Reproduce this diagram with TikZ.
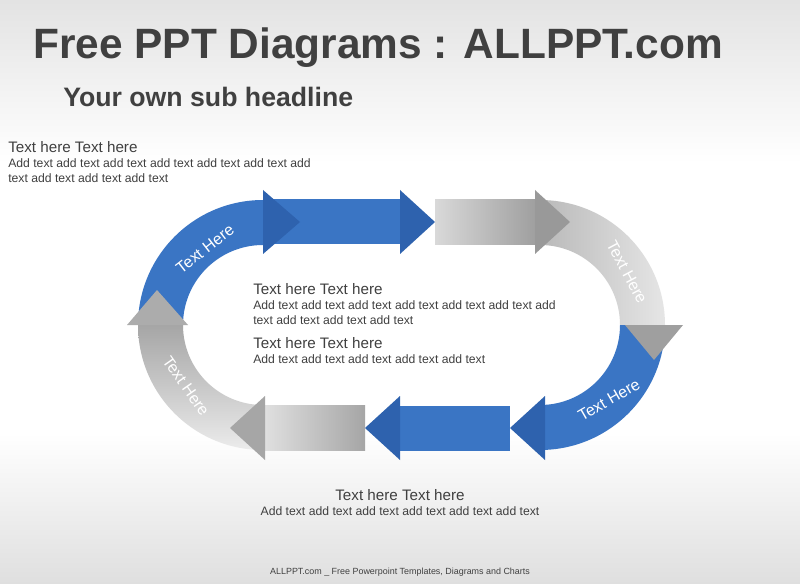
\documentclass[tikz,border=0pt]{standalone}
\usepackage{fontspec}
\setmainfont{Liberation Sans}
\begin{document}
\begin{tikzpicture}[x=0.75pt,y=0.75pt,
  blu/.style={fill=blue1},
  gr/.style={left color=gray!30,right color=gray!75},
  lbl/.style={text=white,font=\fontsize{12}{13}\selectfont},
  head/.style={font=\fontsize{11.4}{12}\selectfont,text=txt,anchor=north west,inner sep=0pt},
  body/.style={font=\fontsize{9.15}{11.5}\selectfont,text=txt,anchor=north west,inner sep=0pt,align=left}]
\definecolor{blue1}{HTML}{3A75C4}
\definecolor{blue2}{HTML}{2E62AE}
\definecolor{txt}{HTML}{404040}
\shade[top color=gray!22,bottom color=white] (0,583) rectangle (800,420);
\fill[white] (0,420) rectangle (800,150);
\shade[top color=white,bottom color=gray!25] (0,150) rectangle (800,0);
\useasboundingbox (0,0) rectangle (800,583);
\node[anchor=west,inner sep=0pt,text=txt,font=\fontsize{31.8}{36}\selectfont\bfseries] (title) at (33,535) {Free PPT Diagrams : ALLPPT.com};
\node[anchor=west,inner sep=0pt,text=txt,font=\fontsize{20}{22}\selectfont\bfseries] (sub) at (63,486) {Your own sub headline};
% arcs
\coordinate (L) at (263,258); \coordinate (R) at (540,258);
\fill[blue1] ([shift={(180:125)}]L) arc(180:90:125) -- ([shift={(90:80)}]L) arc(90:180:80) -- cycle;
\shade[left color=gray!55,right color=gray!20] ([shift={(90:125)}]R) arc(90:0:125) -- ([shift={(0:80)}]R) arc(0:90:80) -- cycle;
\fill[blue1] ([shift={(0:125)}]R) arc(0:-90:125) -- ([shift={(-90:80)}]R) arc(-90:0:80) -- cycle;
\shade[top color=gray!70,bottom color=gray!15] ([shift={(-90:125)}]L) arc(-90:-180:125) -- ([shift={(180:80)}]L) arc(-180:-90:80) -- cycle;
% bands
\fill[blue1] (263,338.5) rectangle (400,383.5);
\shade[gr] (435,338.5) rectangle (535,383.5);
\fill[blue1] (400,132.5) rectangle (510,177.5);
\shade[left color=gray!25,right color=gray!70] (265,132.5) rectangle (365,177.5);
% arrowheads
\fill[blue2] (263,393) -- (300,361) -- (263,329) -- cycle;
\fill[blue2] (400,393) -- (435,361) -- (400,329) -- cycle;
\fill[gray!80] (535,393) -- (570,361) -- (535,329) -- cycle;
\fill[gray!75] (625,258) -- (654,223) -- (683,258) -- cycle;
\fill[blue2] (545,187) -- (510,155) -- (545,123) -- cycle;
\fill[blue2] (400,187) -- (365,155) -- (400,123) -- cycle;
\fill[gray!70] (265,187) -- (230,155) -- (265,123) -- cycle;
\fill[gray!65] (127,258) -- (157,293) -- (188,258) -- cycle;
% arc labels
\node[lbl,rotate=38] (t1) at (205,334) {Text Here};
\node[lbl,rotate=-62] (t2) at (627,311) {Text Here};
\node[lbl,rotate=30] (t3) at (609,183) {Text Here};
\node[lbl,rotate=-55] (t4) at (186,197) {Text Here};
% texts
\node[head] (h1) at (8,442) {Text here Text here};
\node[body] (b1) at (8,425) {Add text add text add text add text add text add text add\\text add text add text add text};
\node[head] (h2) at (253,300) {Text here Text here};
\node[body] (b2) at (253,283) {Add text add text add text add text add text add text add\\text add text add text add text};
\node[head] (h3) at (253,246) {Text here Text here};
\node[body] (b3) at (253,229) {Add text add text add text add text add text};
\node[font=\fontsize{11.4}{12}\selectfont,text=txt,inner sep=0pt] (h4) at (400,88) {Text here Text here};
\node[font=\fontsize{9.15}{11}\selectfont,text=txt,inner sep=0pt] (b4) at (400,72) {Add text add text add text add text add text add text};
\node[font=\fontsize{6.7}{8}\selectfont,text=txt,inner sep=0pt] (f) at (400,11) {ALLPPT.com \_ Free Powerpoint Templates, Diagrams and Charts};
\end{tikzpicture}
\end{document}
